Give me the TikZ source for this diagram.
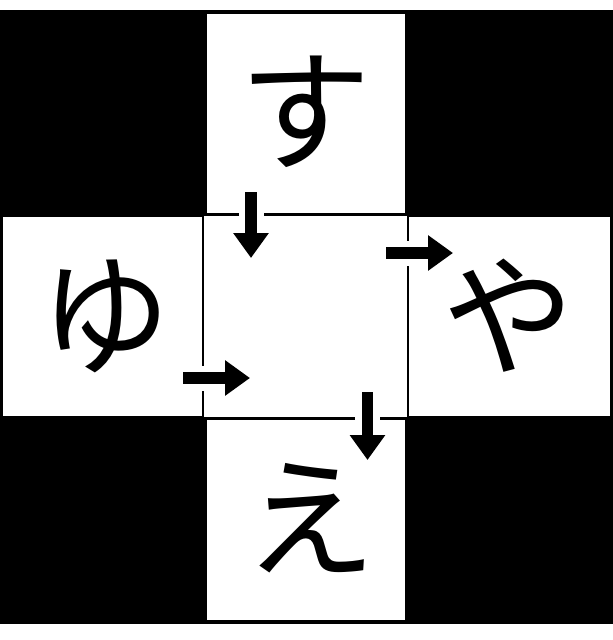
\documentclass[tikz,border=0pt]{standalone}
\usepackage{fontspec}
\newfontfamily\kanafont{Noto Sans CJK JP}
\usetikzlibrary{arrows.meta}

\begin{document}
\begin{tikzpicture}[x=1pt, y=-1pt,
  cell/.style={fill=white, inner sep=0pt},
  frame/.style={draw=black, line width=2pt, inner sep=0pt},
  kana/.style={font=\kanafont\fontsize{132pt}{132pt}\selectfont, inner sep=0pt},
  flow/.style={line width=11.5pt, -{Triangle[length=25pt,width=34pt]}},
  gap/.style={white, line width=25pt, shorten >=25pt}]
\useasboundingbox (0,0) rectangle (613,640);
\fill[black] (0,10) rectangle (613,624);

% white squares of the cross
\node[cell, minimum width=198pt, minimum height=199pt] (top) at (306,113.5) {};
\node[cell, minimum width=200pt, minimum height=199pt] (left) at (103,316.5) {};
\node[cell, minimum width=202pt, minimum height=199pt] (right) at (509,316.5) {};
\node[cell, minimum width=198pt, minimum height=200pt] (bottom) at (306,520) {};
\node[cell, frame, minimum width=205pt, minimum height=203pt] (center) at (305.5,316.5) {};

% kana
\node[kana] (su) at (305,112) {す};
\node[kana] (yu) at (105,316) {ゆ};
\node[kana] (ya) at (508,316) {や};
\node[kana] (e) at (310,518) {え};

% arrow ends
\coordinate (in1) at (251,192);
\coordinate (out1) at (251,258);
\coordinate (in2) at (386,253);
\coordinate (out2) at (453,253);
\coordinate (in3) at (183,378);
\coordinate (out3) at (250,378);
\coordinate (in4) at (367.5,392);
\coordinate (out4) at (367.5,460);

\foreach \i in {1,2,3,4}{
  \draw[gap] (in\i) -- (out\i);
  \draw[flow] (in\i) -- (out\i);
}
\end{tikzpicture}
\end{document}
